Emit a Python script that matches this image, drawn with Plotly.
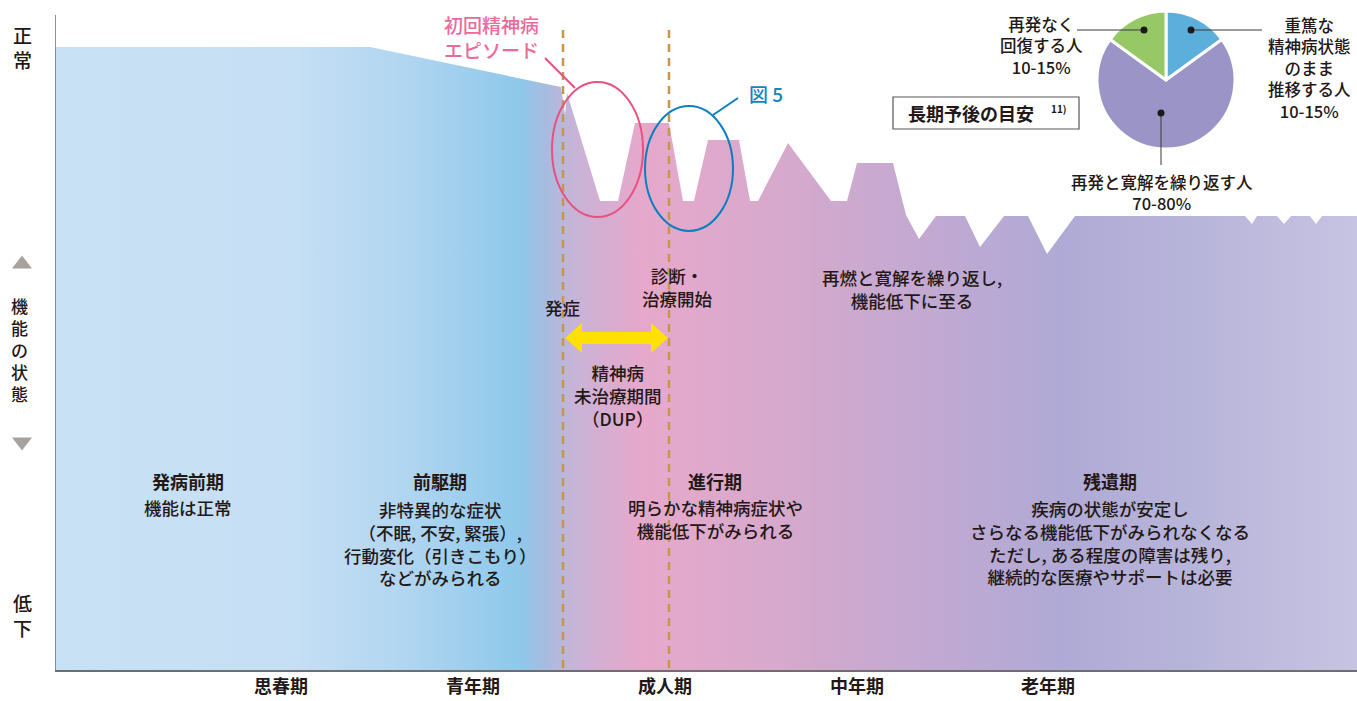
import plotly.graph_objects as go

W, H = 1357, 701
X0, X1 = 55, 1357          # horizontal extent of the course (stage units)
TOP = 670                  # level scale height

# ---- functional-level course (stage position, level) ----
stage_x = [55, 370, 561, 565, 567, 600, 618, 635, 669, 683, 694, 708, 739, 750, 758,
           788, 831, 847, 857, 893, 906, 919, 936, 965, 980, 1004, 1028, 1047, 1075,
           1245, 1252, 1257, 1277, 1284, 1291, 1310, 1316, 1322, 1357]
level = [623, 623, 583, 555, 577, 469, 469, 547, 547, 469, 469, 530, 530, 469, 469,
         527, 469, 469, 507, 507, 455, 431, 454, 454, 423, 454, 454, 416, 454,
         454, 446, 454, 454, 446, 454, 454, 446, 454, 454]

# gradient along the course
grad_x = [55, 290, 400, 520, 545, 575, 640, 680, 800, 950, 1060, 1200, 1357]
grad_c = ["#C9E1F4", "#C6DFF4", "#B2D6F1", "#8EC8EB", "#A6BCE0", "#C9B3D8", "#E6A8CB",
          "#E2A9CB", "#D4A9CD", "#BFA9D3", "#AFAAD5", "#B8B5DA", "#C7C3E2"]

# x-axis life stages
life_pos = [281, 473, 665, 857, 1048]
life_lbl = ["思春期", "青年期", "成人期", "中年期", "老年期"]

# pie: long-term prognosis
pie_labels = ["重篤な精神病状態のまま推移する人", "再発と寛解を繰り返す人", "再発なく回復する人"]
pie_values = [15, 70, 15]
pie_colors = ["#5CAEDB", "#9B94C7", "#97C866"]

DARK = "#231815"
FONT = "Noto Sans CJK JP"


def lv(py):
    return TOP - py


def xp(px):
    return (px - X0) / (X1 - X0)


def yp(py):
    return (TOP - py) / TOP


fig = go.Figure()

fig.add_trace(go.Scatter(
    x=stage_x, y=level, mode="lines", line=dict(width=0),
    fill="tozeroy",
    fillgradient=dict(type="horizontal", start=X0, stop=X1,
                      colorscale=[[(gx - X0) / (X1 - X0), c] for gx, c in zip(grad_x, grad_c)]),
    hoverinfo="skip", showlegend=False))

fig.add_trace(go.Pie(
    labels=pie_labels, values=pie_values, sort=False, direction="clockwise", rotation=0,
    marker=dict(colors=pie_colors, line=dict(color="white", width=3)),
    textinfo="none", hoverinfo="skip", showlegend=False,
    domain=dict(x=[xp(1097), xp(1235)], y=[yp(149), yp(11)])))

shapes = []
# left axis line
shapes.append(dict(type="line", xref="x", yref="y", x0=X0, x1=X0, y0=0, y1=lv(15),
                   line=dict(color="#6E6E6E", width=1.5)))
# onset / diagnosis dashed lines
for vx in (563, 669):
    shapes.append(dict(type="line", xref="x", yref="y", x0=vx, x1=vx, y0=lv(668), y1=lv(29),
                       line=dict(color="#C8964B", width=2.5, dash="8px,6px")))
# ellipses
shapes.append(dict(type="circle", xref="x", yref="y", x0=552, x1=643, y0=lv(217), y1=lv(82),
                   line=dict(color="#E8517F", width=2)))
shapes.append(dict(type="line", xref="x", yref="y", x0=545, x1=575, y0=lv(58), y1=lv(88),
                   line=dict(color="#E8517F", width=2)))
shapes.append(dict(type="circle", xref="x", yref="y", x0=645, x1=733, y0=lv(231), y1=lv(106),
                   line=dict(color="#0A7FC0", width=2)))
shapes.append(dict(type="line", xref="x", yref="y", x0=713, x1=738, y0=lv(115), y1=lv(98),
                   line=dict(color="#0A7FC0", width=2)))
# DUP double arrow
ay = lv(338)
arrow = (f"M565,{ay} L582,{ay+15} L582,{ay+6} L651,{ay+6} L651,{ay+15} L668,{ay} "
         f"L651,{ay-15} L651,{ay-6} L582,{ay-6} L582,{ay-15} Z")
shapes.append(dict(type="path", xref="x", yref="y", path=arrow,
                   fillcolor="#FFE100", line=dict(width=0)))
# pie leader lines and dots
for (x0_, y0_, x1_, y1_) in [(1191, 30, 1262, 30), (1077, 30, 1144, 30), (1161, 113, 1161, 165)]:
    shapes.append(dict(type="line", xref="x", yref="y", x0=x0_, x1=x1_, y0=lv(y0_), y1=lv(y1_),
                       line=dict(color="#3A3A3A", width=1)))
for (dx, dy) in [(1191, 30), (1144, 30), (1161, 113)]:
    shapes.append(dict(type="circle", xref="x", yref="y", x0=dx - 3.5, x1=dx + 3.5,
                       y0=lv(dy + 3.5), y1=lv(dy - 3.5), fillcolor="#1A1A1A", line=dict(width=0)))
# prognosis box
shapes.append(dict(type="rect", xref="x", yref="y", x0=893, x1=1079, y0=lv(129), y1=lv(97),
                   fillcolor="white", line=dict(color="#555555", width=1.2)))
# y-axis triangles
for (cy, up) in [(262, True), (444, False)]:
    if up:
        p = f"M{xp(12)},{yp(cy+6.5)} L{xp(32)},{yp(cy+6.5)} L{xp(22)},{yp(cy-6.5)} Z"
    else:
        p = f"M{xp(12)},{yp(cy-6.5)} L{xp(32)},{yp(cy-6.5)} L{xp(22)},{yp(cy+6.5)} Z"
    shapes.append(dict(type="path", xref="paper", yref="paper", path=p,
                       fillcolor="#A8A29E", line=dict(width=0)))

ann = []


def note(text, px, py, size=17.5, color=DARK, ref="x", weight=500):
    if ref == "x":
        pos = dict(x=px, y=lv(py), xref="x", yref="y")
    else:
        pos = dict(x=xp(px), y=yp(py), xref="paper", yref="paper")
    ann.append(dict(**pos, text=text, showarrow=False,
                    font=dict(size=size, color=color, family=FONT, weight=weight),
                    align="center", xanchor="center", yanchor="middle"))


# y-axis labels (vertical)
note("正<br>常", 22, 47, size=19, ref="paper")
note("低<br>下", 22, 615, size=19, ref="paper")
note("機<br>能<br>の<br>状<br>態", 19, 350, size=17, ref="paper")

# stage texts
note("<b>発病前期</b>", 188, 481, size=18)
note("機能は正常", 188, 507)
note("<b>前駆期</b>", 440, 481, size=18)
note("非特異的な症状<br>（不眠, 不安, 緊張）,<br>行動変化（引きこもり）<br>などがみられる", 440, 543)
note("<b>進行期</b>", 715, 481, size=18)
note("明らかな精神病症状や<br>機能低下がみられる", 715, 519)
note("<b>残遺期</b>", 1110, 481, size=18)
note("疾病の状態が安定し<br>さらなる機能低下がみられなくなる<br>ただし, ある程度の障害は残り,<br>継続的な医療やサポートは必要",
     1110, 542)
note("再燃と寛解を繰り返し,<br>機能低下に至る", 912, 289)
note("診断・<br>治療開始", 677, 287)
note("発症", 562, 307)
note("精神病<br>未治療期間<br>（DUP）", 618, 395)
note("初回精神病<br>エピソード", 491, 37, size=19, color="#EB6A9C")
note("図 5", 766, 93, size=19, color="#1583C5")

# pie labels
note("再発なく<br>回復する人<br>10-15%", 1041, 45, size=16.5)
note("重篤な<br>精神病状態<br>のまま<br>推移する人<br>10-15%", 1309, 68, size=16.5)
note("再発と寛解を繰り返す人<br>70-80%", 1162, 192, size=16.5)
note("<b>長期予後の目安</b>", 971, 113, size=18)
note("<b>11)</b>", 1059, 108, size=10)

fig.update_layout(
    width=W, height=H,
    margin=dict(l=X0, r=W - X1, t=0, b=H - TOP),
    paper_bgcolor="white", plot_bgcolor="white",
    font=dict(family=FONT, color=DARK),
    xaxis=dict(range=[X0, X1], showgrid=False, zeroline=False, showline=True,
               linecolor="#6E6E6E", linewidth=1.5, ticks="",
               tickvals=life_pos, ticktext=[f"<b>{t}</b>" for t in life_lbl],
               tickfont=dict(size=18, color=DARK, family=FONT), fixedrange=True),
    yaxis=dict(range=[0, TOP], visible=False, fixedrange=True),
    shapes=shapes, annotations=ann,
)

fig.write_html("out.html")
